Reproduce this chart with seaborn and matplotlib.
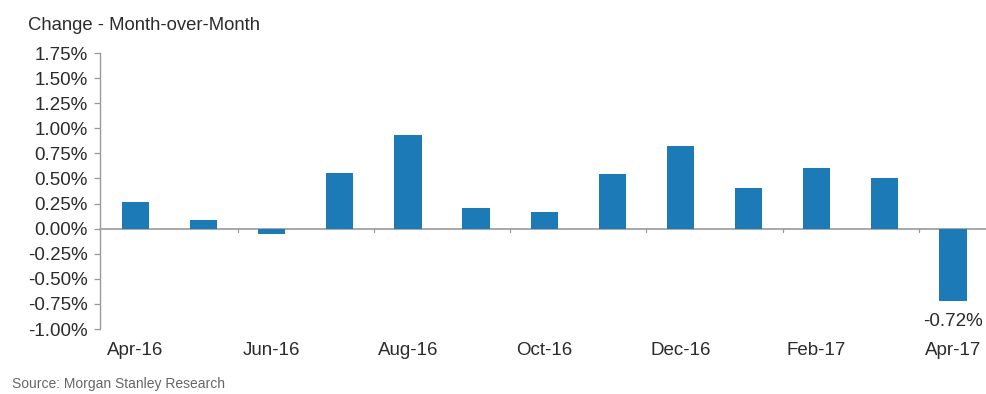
import matplotlib
matplotlib.use("Agg")
import matplotlib.pyplot as plt
import seaborn as sns
import pandas as pd

months = ["Apr-16", "May-16", "Jun-16", "Jul-16", "Aug-16", "Sep-16", "Oct-16",
          "Nov-16", "Dec-16", "Jan-17", "Feb-17", "Mar-17", "Apr-17"]
mom_change = [0.27, 0.09, -0.05, 0.55, 0.93, 0.21, 0.17, 0.54, 0.82, 0.40, 0.60, 0.50, -0.72]
y_ticks = [-1.00, -0.75, -0.50, -0.25, 0.00, 0.25, 0.50, 0.75, 1.00, 1.25, 1.50, 1.75]
title_text = "Change - Month-over-Month"
source_text = "Source: Morgan Stanley Research"
last_label = "-0.72%"

sns.set_theme(style="white")
plt.rcParams["font.family"] = ["Liberation Sans", "DejaVu Sans"]

df = pd.DataFrame({"month": months, "change": mom_change})

fig = plt.figure(figsize=(9.87, 3.94), dpi=100)
ax = fig.add_axes([100 / 987, 1 - 329 / 394, 1 - 100 / 987, (329 - 53) / 394])

bar_color = "#1C7AB6"
text_color = "#2B2B2B"
sns.barplot(data=df, x="month", y="change", order=months, color=bar_color,
            width=0.4, saturation=1, linewidth=0, ax=ax)

ax.set_ylim(-1.0, 1.75)
ax.set_xlim(-0.52, 12.5)
ax.set_yticks(y_ticks)
ax.set_yticklabels([f"{v:.2f}%" for v in y_ticks], fontsize=13.5, color=text_color)

# x labels every other month, ticks between pairs
ax.set_xticks([])
for i in range(0, len(months), 2):
    ax.text(i, -1.21, months[i], ha="center", va="center", fontsize=13.5,
            color=text_color, clip_on=False)
for b in [1.5, 3.5, 5.5, 7.5, 9.5, 11.5]:
    ax.plot([b, b], [0, -0.03], color="#999999", lw=0.9, clip_on=False)

ax.axhline(0, color="#999999", lw=1.2, zorder=0)
for s in ["top", "right", "bottom"]:
    ax.spines[s].set_visible(False)
ax.spines["left"].set_color("#999999")
ax.spines["left"].set_linewidth(1.0)
ax.tick_params(axis="y", which="both", left=True, length=4, width=0.9,
               color="#999999", pad=5)
ax.set_xlabel("")
ax.set_ylabel("")

ax.text(12, -0.93, last_label, ha="center", va="center", fontsize=13.5,
        color=text_color)

fig.text(28 / 987, 1 - 25 / 394, title_text, ha="left", va="center",
         fontsize=13.3, color=text_color)
fig.text(12 / 987, 1 - 384 / 394, source_text, ha="left", va="center",
         fontsize=10, color="#666666")

fig.savefig("out.png", dpi=100)
